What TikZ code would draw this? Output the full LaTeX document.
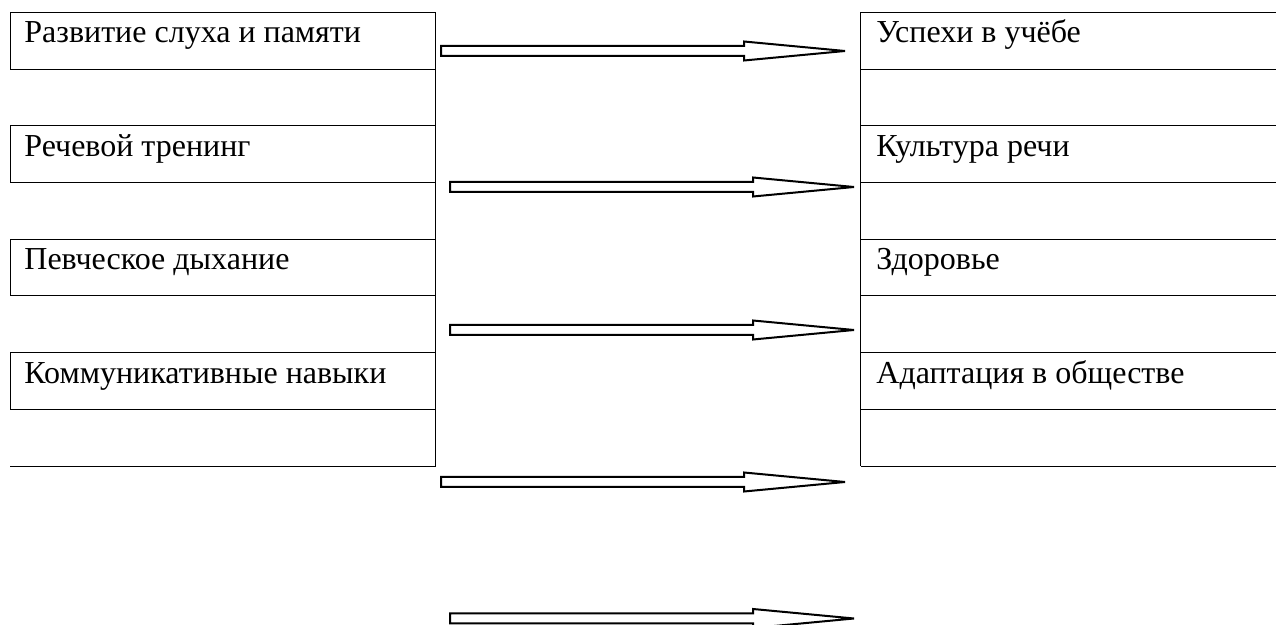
\documentclass[tikz,border=0pt]{standalone}
\usepackage{fontspec}
\setmainfont{Liberation Serif}

\begin{document}
\begin{tikzpicture}[x=0.5pt,y=-0.5pt,
 cell/.style={anchor=base west,inner sep=0pt,font=\fontsize{16}{19}\selectfont},
 rule/.style={line width=0.5pt},
 blockarrow/.style={draw,line width=1pt,fill=white}]
\useasboundingbox (0,0) rectangle (1276,625);
% left column
\draw[rule] (435.7,12.5) -- (435.7,466.1) -- (10,466.1);
\foreach \k/\txt in {0/Развитие слуха и памяти,1/Речевой тренинг,2/Певческое дыхание,3/Коммуникативные навыки}{
  \draw[rule] (10,12.5+113.4*\k) rectangle (435.7,69.2+113.4*\k);
  \node[cell] (left\k) at (24,43+113.4*\k) {\txt};
}
% right column
\draw[rule] (860.7,12.5) -- (860.7,466.1);
\foreach \r in {0,...,8}
  \draw[rule] (860.7,12.5+56.7*\r) -- (1276,12.5+56.7*\r);
\foreach \k/\txt in {0/Успехи в учёбе,1/Культура речи,2/Здоровье,3/Адаптация в обществе}
  \node[cell] (right\k) at (876,43+113.4*\k) {\txt};
% arrows
\foreach \a/\b/\c/\y in {441/744/845/51,450/753/854/187,450/753/854/330,441/744/845/482,450/753/854/618.5}
  \draw[blockarrow] (\a,\y-5) -- (\b,\y-5) -- (\b,\y-9.5) -- (\c,\y)
    -- (\b,\y+9.5) -- (\b,\y+5) -- (\a,\y+5) -- cycle;
\end{tikzpicture}
\end{document}
